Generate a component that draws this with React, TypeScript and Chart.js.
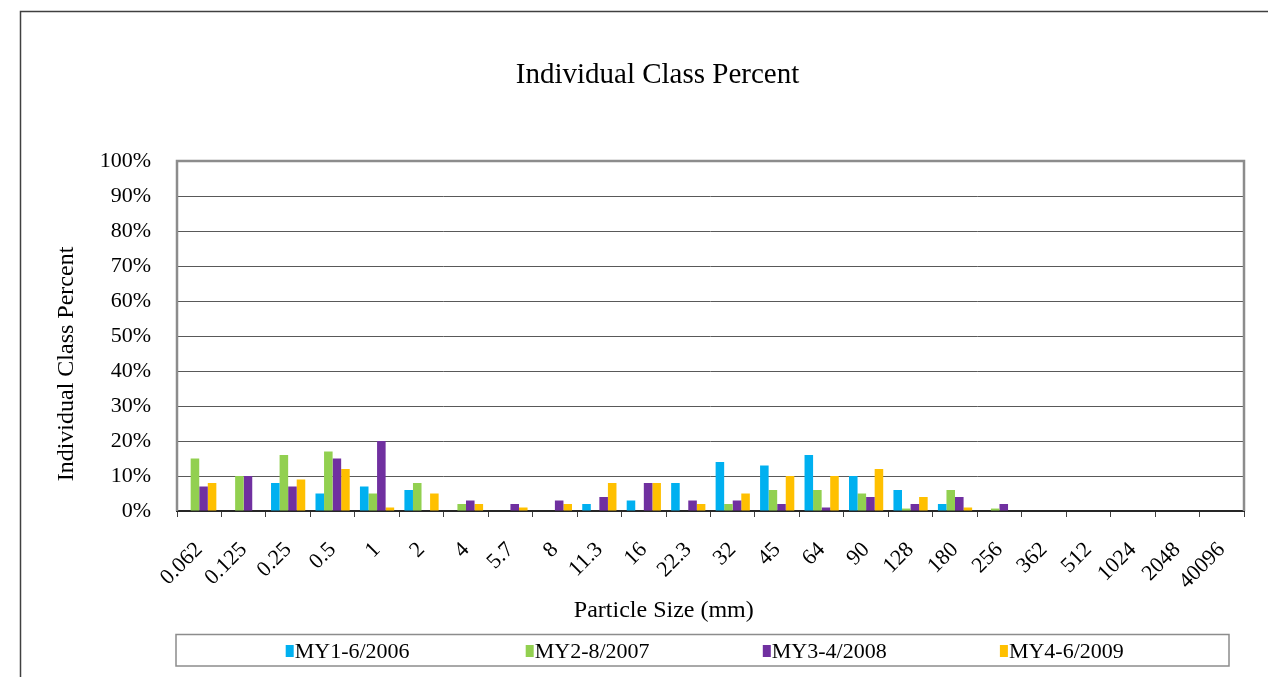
import React, { useEffect, useRef } from "react";
import { Chart, registerables } from "chart.js";

Chart.register(...registerables);

const categories = ["0.062", "0.125", "0.25", "0.5", "1", "2", "4", "5.7", "8", "11.3", "16", "22.3", "32", "45", "64", "90", "128", "180", "256", "362", "512", "1024", "2048", "40096"];
const my1 = [0, 0, 8, 5, 7, 6, 0, 0, 0, 2, 3, 8, 14, 13, 16, 10, 6, 2, 0, 0, 0, 0, 0, 0];
const my2 = [15, 10, 16, 17, 5, 8, 2, 0, 0, 0, 0, 0, 2, 6, 6, 5, 0.7, 6, 0.7, 0, 0, 0, 0, 0];
const my3 = [7, 10, 7, 15, 20, 0, 3, 2, 3, 4, 8, 3, 3, 2, 1, 4, 2, 4, 2, 0, 0, 0, 0, 0];
const my4 = [8, 0, 9, 12, 1, 5, 2, 1, 2, 8, 8, 2, 5, 10, 10, 12, 4, 1, 0, 0, 0, 0, 0, 0];
const seriesNames = ["MY1-6/2006", "MY2-8/2007", "MY3-4/2008", "MY4-6/2009"];
const seriesColors = ["#00B0F0", "#92D050", "#7030A0", "#FFC000"];
const chartTitle = "Individual Class Percent";
const yTitle = "Individual Class Percent";
const xTitle = "Particle Size (mm)";

const FONT = '"Liberation Serif", "Times New Roman", serif';

const decorPlugin = {
  id: "decor",
  afterDraw(chart: any) {
    const ctx = chart.ctx;
    const ca = chart.chartArea;
    ctx.save();
    // outer border
    ctx.strokeStyle = "#404040";
    ctx.lineWidth = 1.5;
    ctx.beginPath();
    ctx.moveTo(20.5, 700);
    ctx.lineTo(20.5, 11.5);
    ctx.lineTo(1300, 11.5);
    ctx.stroke();
    // plot frame
    ctx.strokeStyle = "#8c8c8c";
    ctx.lineWidth = 2.5;
    ctx.beginPath();
    ctx.moveTo(ca.left, ca.bottom);
    ctx.lineTo(ca.left, ca.top);
    ctx.lineTo(ca.right, ca.top);
    ctx.lineTo(ca.right, ca.bottom);
    ctx.stroke();
    // title
    ctx.fillStyle = "#000";
    ctx.font = `29px ${FONT}`;
    ctx.textAlign = "center";
    ctx.textBaseline = "alphabetic";
    ctx.fillText(chartTitle, 657.5, 83);
    // x title
    ctx.font = `24px ${FONT}`;
    ctx.fillText(xTitle, 663.8, 617);
    // y title
    ctx.save();
    ctx.translate(73, 364);
    ctx.rotate(-Math.PI / 2);
    ctx.fillText(yTitle, 0, 0);
    ctx.restore();
    // legend box
    ctx.strokeStyle = "#8c8c8c";
    ctx.lineWidth = 1.5;
    ctx.strokeRect(176, 634.5, 1053, 31.5);
    const starts = [285.7, 525.7, 762.8, 999.9];
    ctx.font = `22px ${FONT}`;
    ctx.textAlign = "left";
    seriesNames.forEach((name, i) => {
      ctx.fillStyle = seriesColors[i];
      ctx.fillRect(starts[i], 645, 8, 12);
      ctx.fillStyle = "#000";
      ctx.fillText(name, starts[i] + 9, 658);
    });
    ctx.restore();
  },
};

export default function App() {
  const ref = useRef<HTMLCanvasElement | null>(null);
  useEffect(() => {
    document.body.style.margin = "0";
    const canvas = ref.current;
    if (!canvas) return;
    const datasets = [my1, my2, my3, my4].map((d, i) => ({
      label: seriesNames[i],
      data: d,
      backgroundColor: seriesColors[i],
      borderWidth: 0,
      categoryPercentage: 0.77,
      barPercentage: 1.0,
    }));
    const chart = new Chart(canvas, {
      type: "bar",
      data: { labels: categories, datasets },
      options: {
        responsive: false,
        animation: false,
        layout: { padding: { left: 0, top: 161, right: 24, bottom: 0 } },
        plugins: {
          legend: { display: false },
          title: { display: false },
          tooltip: { enabled: false },
        },
        scales: {
          x: {
            afterFit: (s: any) => {
              s.height = 166;
            },
            grid: {
              drawOnChartArea: false,
              drawTicks: true,
              tickLength: 6,
              offset: true,
              color: "#404040",
              lineWidth: 1,
            },
            border: { display: true, color: "#262626", width: 2 },
            ticks: {
              autoSkip: false,
              maxRotation: 45,
              minRotation: 45,
              padding: 20,
              color: "#000",
              font: { family: FONT, size: 22 },
            },
          },
          y: {
            min: 0,
            max: 100,
            afterFit: (s: any) => {
              s.width = 177;
            },
            grid: {
              drawTicks: false,
              color: "#595959",
              lineWidth: 1,
            },
            border: { display: false },
            ticks: {
              stepSize: 10,
              padding: 26,
              color: "#000",
              font: { family: FONT, size: 22 },
              callback: (v: any) => `${v}%`,
            },
          },
        },
      },
      plugins: [decorPlugin],
    });
    return () => chart.destroy();
  }, []);
  return (
    <div style={{ width: 1268, height: 677 }}>
      <canvas ref={ref} width={1268} height={677} style={{ display: "block" }} />
    </div>
  );
}
